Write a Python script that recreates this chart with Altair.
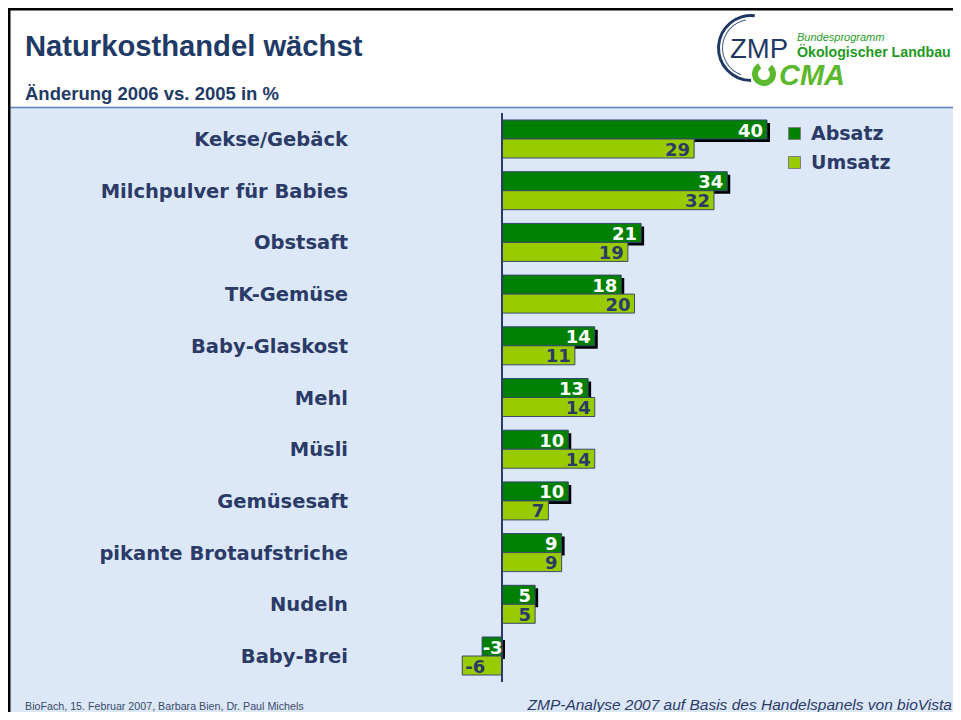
import altair as alt
import pandas as pd

categories = ["Kekse/Gebäck", "Milchpulver für Babies", "Obstsaft", "TK-Gemüse",
              "Baby-Glaskost", "Mehl", "Müsli", "Gemüsesaft",
              "pikante Brotaufstriche", "Nudeln", "Baby-Brei"]
absatz = [40, 34, 21, 18, 14, 13, 10, 10, 9, 5, -3]
umsatz = [29, 32, 19, 20, 11, 14, 14, 7, 9, 5, -6]
series = ["Absatz", "Umsatz"]

title_text = "Naturkosthandel wächst"
subtitle_text = "Änderung 2006 vs. 2005 in %"
footer_left = "BioFach, 15. Februar 2007, Barbara Bien, Dr. Paul Michels"
footer_right = "ZMP-Analyse 2007 auf Basis des Handelspanels von bioVista"

n = len(categories)
df = pd.DataFrame({
    "Kategorie": categories * 2,
    "Reihe": ["Absatz"] * n + ["Umsatz"] * n,
    "Wert": absatz + umsatz,
    "Rang": list(range(n)) * 2,
    "Null": [0] * (2 * n),
})
cat_df = pd.DataFrame({"Kategorie": categories, "Rang": list(range(n))})
one = pd.DataFrame({"Null": [0]})

W, H = 945, 704
NAVY = "#2b3a67"
PX = 6.625           # pixels per percentage point
ZERO = 494           # pixel position of the zero line
STEP = 51.7          # pixel height of one category row
TOP = 131            # pixel centre of first row
BAR = 19 / STEP      # bar thickness in row units
SH = 3 / STEP        # shadow shift in row units
xscale = alt.Scale(domain=[-ZERO / PX, (W - ZERO) / PX], nice=False, zero=False)
yscale = alt.Scale(domain=[-TOP / STEP, (H - TOP) / STEP], nice=False, zero=False, reverse=True)
cscale = alt.Scale(domain=series, range=["#008000", "#99cc00"])

base = alt.Chart(df).transform_calculate(
    xsh="datum.Wert + %f" % (3 / PX), x0sh="%f" % (3 / PX),
    ya="datum.Rang - %f" % BAR, ym="datum.Rang", yu="datum.Rang + %f" % BAR,
    ysa="datum.Rang - %f" % (BAR - SH), ysm="datum.Rang + %f" % SH,
    yta="datum.Rang - %f" % (BAR / 2 - 0.02), ytu="datum.Rang + %f" % (BAR / 2 + 0.02),
    lbl="'' + datum.Wert",
)
ab = base.transform_filter("datum.Reihe == 'Absatz'")
um = base.transform_filter("datum.Reihe == 'Umsatz'")

# decorative slide background
bg = alt.Chart(one).mark_rect(color="#dce8f8").encode(
    x=alt.value(2), x2=alt.value(W), y=alt.value(100), y2=alt.value(H))
hline = alt.Chart(one).mark_rule(color="#5b7bbd", strokeWidth=1.5).encode(
    x=alt.value(2), x2=alt.value(W), y=alt.value(99.5))
border_l = alt.Chart(one).mark_rect(color="black").encode(
    x=alt.value(0), x2=alt.value(2.5), y=alt.value(0), y2=alt.value(H))
border_t = alt.Chart(one).mark_rect(color="black").encode(
    x=alt.value(0), x2=alt.value(W), y=alt.value(0), y2=alt.value(2.5))

legend = alt.Legend(title=None, orient="none", legendX=777, legendY=116,
                    symbolType="square", symbolSize=144,
                    symbolStrokeColor="#7f7f7f", symbolStrokeWidth=1,
                    labelFont="DejaVu Sans", labelFontWeight="bold",
                    labelFontSize=19, labelColor=NAVY, labelOffset=7,
                    rowPadding=9, padding=0)

X = lambda f: alt.X(f, scale=xscale, axis=None)
Yq = lambda f: alt.Y(f, scale=yscale, axis=None)

shadow = ab.mark_rect(color="black").encode(
    x=X("x0sh:Q"), x2="xsh:Q", y=Yq("ysa:Q"), y2="ysm:Q")
abs_bars = ab.mark_rect(stroke="#34456e", strokeWidth=1).encode(
    x=X("Wert:Q"), x2="Null:Q", y=Yq("ya:Q"), y2="ym:Q",
    color=alt.Color("Reihe:N", scale=cscale, legend=legend))
ums_bars = um.mark_rect(stroke="#3a4a6a", strokeWidth=1).encode(
    x=X("Wert:Q"), x2="Null:Q", y=Yq("ym:Q"), y2="yu:Q",
    color=alt.Color("Reihe:N", scale=cscale, legend=legend))

axis_rule = alt.Chart(one).mark_rule(color=NAVY, strokeWidth=2).encode(
    x=X("Null:Q"), y=alt.value(105), y2=alt.value(674))

tprops = dict(baseline="middle", font="DejaVu Sans", fontWeight="bold", fontSize=18)
abs_pos = ab.transform_filter("datum.Wert >= 0").mark_text(
    align="right", dx=-4, dy=1, color="white", **tprops).encode(
    x=X("Wert:Q"), y=Yq("yta:Q"), text="lbl:N")
abs_neg = ab.transform_filter("datum.Wert < 0").mark_text(
    align="left", dx=0.5, dy=1, color="white", **tprops).encode(
    x=X("Wert:Q"), y=Yq("yta:Q"), text="lbl:N")
ums_pos = um.transform_filter("datum.Wert >= 0").mark_text(
    align="right", dx=-4, dy=1, color=NAVY, **tprops).encode(
    x=X("Wert:Q"), y=Yq("ytu:Q"), text="lbl:N")
ums_neg = um.transform_filter("datum.Wert < 0").mark_text(
    align="left", dx=3, dy=1, color=NAVY, **tprops).encode(
    x=X("Wert:Q"), y=Yq("ytu:Q"), text="lbl:N")

cat_labels = alt.Chart(cat_df).mark_text(
    align="right", baseline="middle", dy=1, font="DejaVu Sans", fontWeight="bold",
    fontSize=19.5, color=NAVY).encode(x=alt.value(340), y=Yq("Rang:Q"), text="Kategorie:N")


def label(txt, x, y, **kw):
    return alt.Chart(one).mark_text(baseline="alphabetic", **kw).encode(
        x=alt.value(x), y=alt.value(y), text=alt.value(txt))


title = label(title_text, 17, 48, align="left", font="Liberation Sans", fontWeight="bold",
              fontSize=29.2, color="#1f3a66")
subtitle = label(subtitle_text, 17, 92, align="left", font="Liberation Sans", fontWeight="bold",
                 fontSize=18.5, color="#1f3a66")
foot_l = label(footer_left, 17, 702, align="left", font="Liberation Sans", fontSize=10.7,
               color="#3b4a6b")
foot_r = label(footer_right, 944, 702, align="right", font="Liberation Sans", fontStyle="italic",
               fontSize=15.5, color="#2b3a67")

# logo
arc1 = alt.Chart(one).mark_arc(innerRadius=31, outerRadius=34, color="#1f3864").encode(
    x=alt.value(743), y=alt.value(40), theta=alt.value(3.14), theta2=alt.value(6.4))
arc2 = alt.Chart(one).mark_arc(innerRadius=28, outerRadius=29, color="#3f5a8a").encode(
    x=alt.value(743), y=alt.value(40), theta=alt.value(3.5), theta2=alt.value(6.1))
zmp = label("ZMP", 722, 50, align="left", font="Liberation Sans", fontSize=27.5, color="#1f3864")
bund = label("Bundesprogramm", 789, 33, align="left", font="Liberation Sans", fontStyle="italic",
             fontSize=11, color="#2a9d2a")
oeko = label("Ökologischer Landbau", 789, 49, align="left", font="Liberation Sans", fontWeight="bold",
             fontSize=14.2, color="#1e9a1e")
ring = alt.Chart(one).mark_arc(innerRadius=6, outerRadius=12, color="#5cb82e").encode(
    x=alt.value(756), y=alt.value(66), theta=alt.value(0.7), theta2=alt.value(5.8))
cma = label("CMA", 771, 77, align="left", font="Liberation Sans", fontWeight="bold", fontStyle="italic",
            fontSize=29, color="#5cb82e")

chart = alt.layer(
    bg, hline, border_l, border_t,
    shadow, abs_bars, ums_bars, axis_rule,
    abs_pos, abs_neg, ums_pos, ums_neg, cat_labels,
    title, subtitle, foot_l, foot_r,
    arc1, arc2, zmp, bund, oeko, ring, cma,
).properties(
    width=W, height=H, autosize=alt.AutoSizeParams(type="none"), padding=0, background="white"
).configure_view(stroke=None)

chart.save("out.html", embed_options={"renderer": "svg", "actions": False})
